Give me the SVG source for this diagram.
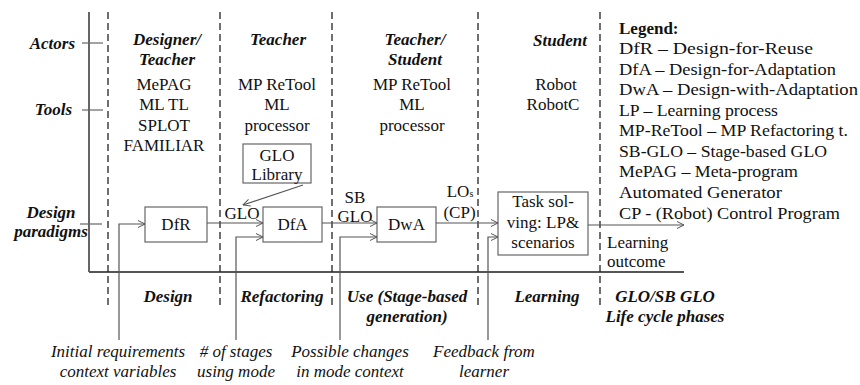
<svg xmlns="http://www.w3.org/2000/svg" width="860" height="385" viewBox="0 0 860 385" font-family="Liberation Serif, DejaVu Serif, serif" font-size="17">
  <defs>
    <marker id="open" viewBox="0 0 8 8" refX="7.5" refY="4" markerWidth="8" markerHeight="8" markerUnits="userSpaceOnUse" orient="auto">
      <path d="M0.5,0.5 L7.5,4 L0.5,7.5" fill="none" stroke="#555" stroke-width="1"/>
    </marker>
    <style>
      text { fill: #111; }
      .bi { font-weight: bold; font-style: italic; }
      .it { font-style: italic; }
      .b { font-weight: bold; }
      .c { text-anchor: middle; }
      .r { text-anchor: end; }
      .axis { stroke: #555; stroke-width: 1.8; fill: none; }
      .tick { stroke: #666; stroke-width: 1.2; fill: none; }
      .dash { stroke: #222; stroke-width: 1.3; stroke-dasharray: 7 4; fill: none; }
      .box { fill: #fff; stroke: #666; stroke-width: 1.2; }
      .conn { fill: none; stroke: #555; stroke-width: 1.2; marker-end: url(#open); }
    </style>
  </defs>

  <!-- axes and row ticks -->
  <g id="axes">
    <line class="axis" x1="89" y1="12" x2="89" y2="272"/>
    <line class="axis" x1="89" y1="272" x2="684" y2="272"/>
    <line class="tick" x1="82" y1="43" x2="103" y2="43"/>
    <line class="tick" x1="82" y1="110" x2="103" y2="110"/>
    <line class="tick" x1="80" y1="224" x2="102" y2="224"/>
  </g>

  <!-- phase separators -->
  <g id="separators">
    <line class="dash" x1="108" y1="12" x2="108" y2="306"/>
    <line class="dash" x1="220" y1="12" x2="220" y2="306"/>
    <line class="dash" x1="332" y1="12" x2="332" y2="306"/>
    <line class="dash" x1="478" y1="12" x2="478" y2="306"/>
    <line class="dash" x1="600" y1="12" x2="600" y2="306"/>
  </g>

  <!-- row labels -->
  <g id="row-labels">
    <text class="bi r" x="75" y="49">Actors</text>
    <text class="bi r" x="72" y="115">Tools</text>
    <text class="bi c" x="51" y="218">Design</text>
    <text class="bi c" x="51" y="237">paradigms</text>
  </g>

  <!-- actors and tools per phase -->
  <g id="col-design">
    <text class="bi c" x="167" y="45">Designer/</text>
    <text class="bi c" x="167" y="65">Teacher</text>
    <text class="c" x="164" y="90">MePAG</text>
    <text class="c" x="164" y="110">ML TL</text>
    <text class="c" x="164" y="131">SPLOT</text>
    <text class="c" x="164" y="151">FAMILIAR</text>
  </g>
  <g id="col-refactoring">
    <text class="bi c" x="278" y="45">Teacher</text>
    <text class="c" x="277" y="90">MP ReTool</text>
    <text class="c" x="277" y="110">ML</text>
    <text class="c" x="277" y="131">processor</text>
  </g>
  <g id="col-use">
    <text class="bi c" x="415" y="45">Teacher/</text>
    <text class="bi c" x="415" y="65">Student</text>
    <text class="c" x="412" y="90">MP ReTool</text>
    <text class="c" x="412" y="110">ML</text>
    <text class="c" x="412" y="131">processor</text>
  </g>
  <g id="col-learning">
    <text class="bi c" x="560" y="46">Student</text>
    <text class="c" x="556" y="90">Robot</text>
    <text class="c" x="553" y="110">RobotC</text>
  </g>

  <!-- legend -->
  <g id="legend">
    <text class="b" x="619" y="33.5">Legend:</text>
    <text x="619" y="54" textLength="194" lengthAdjust="spacingAndGlyphs">DfR – Design-for-Reuse</text>
    <text x="619" y="74.5" textLength="217" lengthAdjust="spacingAndGlyphs">DfA – Design-for-Adaptation</text>
    <text x="619" y="95" textLength="239" lengthAdjust="spacingAndGlyphs">DwA – Design-with-Adaptation</text>
    <text x="619" y="115.5" textLength="159" lengthAdjust="spacingAndGlyphs">LP – Learning process</text>
    <text x="619" y="136" textLength="229" lengthAdjust="spacingAndGlyphs">MP-ReTool – MP Refactoring t.</text>
    <text x="619" y="156.5" textLength="208" lengthAdjust="spacingAndGlyphs">SB-GLO – Stage-based GLO</text>
    <text x="619" y="177" textLength="179" lengthAdjust="spacingAndGlyphs">MePAG – Meta-program</text>
    <text x="619" y="198" textLength="163" lengthAdjust="spacingAndGlyphs">Automated Generator</text>
    <text x="619" y="219" textLength="221" lengthAdjust="spacingAndGlyphs">CP - (Robot) Control Program</text>
  </g>

  <!-- process nodes -->
  <g id="node-library">
    <rect class="box" x="243" y="144" width="68" height="39"/>
    <text class="c" x="277" y="161">GLO</text>
    <text class="c" x="277" y="180">Library</text>
  </g>
  <g id="node-dfr">
    <rect class="box" x="145" y="207" width="62" height="35"/>
    <text class="c" x="176" y="230">DfR</text>
  </g>
  <g id="node-dfa">
    <rect class="box" x="263" y="207" width="59" height="35"/>
    <text class="c" x="292.5" y="230">DfA</text>
  </g>
  <g id="node-dwa">
    <rect class="box" x="377" y="207" width="59" height="35"/>
    <text class="c" x="406.5" y="230">DwA</text>
  </g>
  <g id="node-task">
    <rect class="box" x="498" y="192" width="90" height="63"/>
    <text class="c" x="543" y="207">Task sol-</text>
    <text class="c" x="543" y="228">ving: LP&amp;</text>
    <text class="c" x="543" y="248">scenarios</text>
  </g>

  <!-- connectors -->
  <g id="connectors">
    <polyline class="conn" points="119,340 119,224 145,224"/>
    <line class="conn" x1="207" y1="223" x2="263" y2="223"/>
    <polyline class="conn" points="236,340 236,237 263,237"/>
    <line class="conn" x1="303" y1="185" x2="243" y2="205"/>
    <line class="conn" x1="322" y1="223" x2="377" y2="223"/>
    <polyline class="conn" points="340,340 340,237 377,237"/>
    <line class="conn" x1="436" y1="223" x2="498" y2="223"/>
    <polyline class="conn" points="488,340 488,237 498,237"/>
    <line class="conn" x1="588" y1="225" x2="684" y2="225"/>
  </g>

  <!-- connector labels -->
  <g id="connector-labels">
    <text class="c" x="242" y="219">GLO</text>
    <text class="c" x="355" y="203">SB</text>
    <text class="c" x="355" y="222">GLO</text>
    <text class="c" x="460" y="197">LO<tspan font-size="10">s</tspan></text>
    <text class="c" x="459.5" y="218">(CP)</text>
    <text x="607" y="248">Learning</text>
    <text x="607" y="267">outcome</text>
  </g>

  <!-- life cycle phases -->
  <g id="phases">
    <text class="bi c" x="168" y="302">Design</text>
    <text class="bi c" x="282" y="302">Refactoring</text>
    <text class="bi c" x="407" y="302">Use (Stage-based</text>
    <text class="bi c" x="407" y="322">generation)</text>
    <text class="bi c" x="547" y="302">Learning</text>
    <text class="bi c" x="665" y="302">GLO/SB GLO</text>
    <text class="bi c" x="665" y="322">Life cycle phases</text>
  </g>

  <!-- external inputs -->
  <g id="inputs">
    <text class="it c" x="118" y="357">Initial requirements</text>
    <text class="it c" x="118" y="377">context variables</text>
    <text class="it c" x="236" y="357"># of stages</text>
    <text class="it c" x="236" y="377">using mode</text>
    <text class="it c" x="350" y="357">Possible changes</text>
    <text class="it c" x="350" y="377">in mode context</text>
    <text class="it c" x="484" y="357">Feedback from</text>
    <text class="it c" x="484" y="377">learner</text>
  </g>
</svg>
